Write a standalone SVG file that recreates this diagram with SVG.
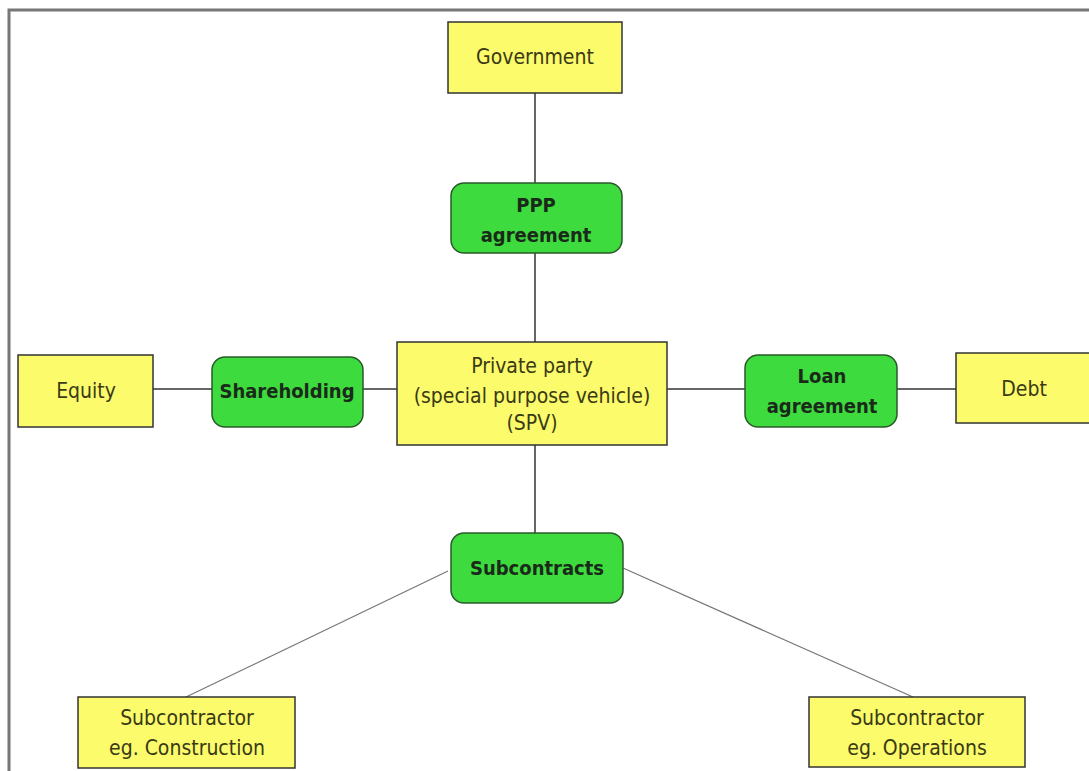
<svg xmlns="http://www.w3.org/2000/svg" width="1089" height="771" viewBox="0 0 1089 771">
<style>
.y{fill:#fbfb6c;stroke:#333;stroke-width:1.5}
.g{fill:#3ddb3d;stroke:#2a5a2a;stroke-width:1.5}
.t{font-family:"Liberation Sans Narrow","DejaVu Sans Condensed","Liberation Sans",sans-serif;font-size:21px;fill:#3a3a14;text-anchor:middle}
.b{font-family:"Liberation Sans Narrow","DejaVu Sans Condensed","Liberation Sans",sans-serif;font-size:20px;font-weight:bold;fill:#1a2a1a;text-anchor:middle}
.l{stroke:#333;stroke-width:1.5;fill:none}
.d{stroke:#777;stroke-width:1.2;fill:none}
</style>
<rect x="0" y="0" width="1089" height="771" fill="#fff"/>
<path d="M9,771 V10 H1089" fill="none" stroke="#777" stroke-width="3"/>
<g id="connectors">
<line class="l" x1="535" y1="93" x2="535" y2="183"/>
<line class="l" x1="535" y1="253" x2="535" y2="342"/>
<line class="l" x1="535" y1="445" x2="535" y2="533"/>
<line class="l" x1="153" y1="389" x2="212" y2="389"/>
<line class="l" x1="363" y1="389" x2="397" y2="389"/>
<line class="l" x1="667" y1="389" x2="745" y2="389"/>
<line class="l" x1="897" y1="389" x2="956" y2="389"/>
<line class="d" x1="448" y1="571" x2="186" y2="697"/>
<line class="d" x1="623" y1="568" x2="913" y2="697"/>
</g>
<g id="government"><rect class="y" x="448" y="22" width="174" height="71"/><text class="t" x="535" y="64">Government</text></g>
<g id="ppp"><rect class="g" x="451" y="183" width="171" height="70" rx="13"/><text class="b" x="536" y="212">PPP</text><text class="b" x="536" y="242">agreement</text></g>
<g id="spv"><rect class="y" x="397" y="342" width="270" height="103"/><text class="t" x="532" y="373">Private party</text><text class="t" x="532" y="403">(special purpose vehicle)</text><text class="t" x="532" y="430">(SPV)</text></g>
<g id="equity"><rect class="y" x="18" y="355" width="135" height="72"/><text class="t" x="86" y="398">Equity</text></g>
<g id="shareholding"><rect class="g" x="212" y="357" width="151" height="70" rx="13"/><text class="b" x="287" y="398">Shareholding</text></g>
<g id="loan"><rect class="g" x="745" y="355" width="152" height="72" rx="13"/><text class="b" x="822" y="383">Loan</text><text class="b" x="822" y="413">agreement</text></g>
<g id="debt"><rect class="y" x="956" y="353" width="138" height="70"/><text class="t" x="1024" y="396">Debt</text></g>
<g id="subcontracts"><rect class="g" x="451" y="533" width="172" height="70" rx="13"/><text class="b" x="537" y="575">Subcontracts</text></g>
<g id="sub-construction"><rect class="y" x="78" y="697" width="217" height="71"/><text class="t" x="187" y="725">Subcontractor</text><text class="t" x="187" y="755">eg. Construction</text></g>
<g id="sub-operations"><rect class="y" x="809" y="697" width="216" height="70"/><text class="t" x="917" y="725">Subcontractor</text><text class="t" x="917" y="755">eg. Operations</text></g>
</svg>
